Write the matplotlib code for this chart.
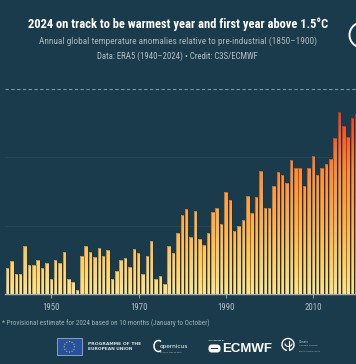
import numpy as np
import matplotlib
matplotlib.use("Agg")
import matplotlib.pyplot as plt
from matplotlib import font_manager as fm
from matplotlib.colors import LinearSegmentedColormap
from matplotlib.path import Path
from matplotlib.patches import PathPatch, Rectangle, Circle, Arc, FancyBboxPatch

# ---------------- data ----------------
years = list(range(1940, 2021))
anomalies = [
    0.19, 0.24, 0.15, 0.15, 0.35, 0.21, 0.21, 0.25, 0.19, 0.23,   # 1940s
    0.11, 0.25, 0.23, 0.31, 0.11, 0.09, 0.03, 0.28, 0.35, 0.31,   # 1950s
    0.27, 0.34, 0.28, 0.32, 0.11, 0.17, 0.25, 0.26, 0.20, 0.33,   # 1960s
    0.30, 0.15, 0.28, 0.39, 0.11, 0.13, 0.07, 0.35, 0.30, 0.45,   # 1970s
    0.58, 0.62, 0.42, 0.61, 0.40, 0.36, 0.45, 0.60, 0.63, 0.51,   # 1980s
    0.75, 0.69, 0.46, 0.50, 0.54, 0.72, 0.59, 0.71, 0.90, 0.63,   # 1990s
    0.63, 0.79, 0.89, 0.87, 0.81, 0.98, 0.92, 0.92, 0.79, 0.92,   # 2000s
    1.01, 0.87, 0.92, 0.95, 0.99, 1.14, 1.33, 1.23, 1.15, 1.29,   # 2010s
    1.32,                                                         # 2020
]
tick_years = [1950, 1970, 1990, 2010]
grid_levels = [0.5, 1.0]
threshold = 1.5

title = "2024 on track to be warmest year and first year above 1.5°C"
subtitle = "Annual global temperature anomalies relative to pre-industrial (1850–1900)"
source = "Data: ERA5 (1940–2024) • Credit: C3S/ECMWF"
footnote = "* Provisional estimate for 2024 based on 10 months (January to October)"

# ---------------- style ----------------
BG = "#1a3b4b"
W, H = 356, 364

names = {f.name for f in fm.fontManager.ttflist}
cond = None
for cand in ["Roboto Condensed", "Liberation Sans Narrow", "Arial Narrow"]:
    if cand in names:
        cond = dict(family=cand)
        break
if cond is None:
    if any(f.name == "DejaVu Sans" and f.stretch in ("condensed", 400) for f in fm.fontManager.ttflist):
        cond = dict(family="DejaVu Sans", stretch="condensed")
    else:
        cond = dict(family="Roboto")

fig = plt.figure(figsize=(W / 100, H / 100), dpi=100)
fig.patch.set_facecolor(BG)

# main axes in pixel geometry
px_per_year = 4.367
x0_year = 1939.4
x1_year = 2025.0
px_per_deg = 136.6
left_px = 5
base_px = 294
ymax = 1.6
ax = fig.add_axes([left_px / W, (H - base_px) / H,
                   (x1_year - x0_year) * px_per_year / W, ymax * px_per_deg / H])
ax.set_facecolor(BG)
ax.set_xlim(x0_year, x1_year)
ax.set_ylim(0, ymax)
for s in ["top", "right", "left"]:
    ax.spines[s].set_visible(False)
ax.spines["bottom"].set_color("#a3b0b7")
ax.spines["bottom"].set_linewidth(1.0)
ax.set_yticks([])
ax.set_xticks(tick_years)
ax.set_xticklabels([str(y) for y in tick_years], color="#b8c3c9", fontsize=6.3, **cond)
ax.tick_params(axis="x", length=3, width=0.8, color="#8d9ca4", pad=3.5)

for g in grid_levels:
    ax.axhline(g, color="#244657", lw=0.8, zorder=0)
ax.axhline(threshold, color="#7d95a1", lw=0.8, dashes=(3.0, 2.2), zorder=1)

# gradient-filled bars
cmap = LinearSegmentedColormap.from_list("warm", [
    (0.0, "#fde48c"), (0.18, "#ffc95e"), (0.35, "#ffac48"),
    (0.56, "#ff8c39"), (0.69, "#f8672d"), (0.84, "#ee3b22"), (1.0, "#e22a1c")])
bw = 0.8
verts_list = []
for yr, v in zip(years, anomalies):
    rect = Path([(yr - bw / 2, 0), (yr + bw / 2, 0), (yr + bw / 2, v), (yr - bw / 2, v), (yr - bw / 2, 0)],
                [Path.MOVETO, Path.LINETO, Path.LINETO, Path.LINETO, Path.CLOSEPOLY])
    verts_list.append(rect)
compound = Path.make_compound_path(*verts_list)
clip_patch = PathPatch(compound, transform=ax.transData, facecolor="none", edgecolor="none")
ax.add_patch(clip_patch)
grad = np.linspace(0, 1, 256).reshape(-1, 1)
im = ax.imshow(grad, extent=[x0_year, x1_year, 0, ymax], origin="lower", aspect="auto",
               cmap=cmap, zorder=2, interpolation="bilinear")
im.set_clip_path(clip_patch)
ax.bar(years, anomalies, width=bw, facecolor="none", edgecolor=(0.12, 0.12, 0.15, 0.35),
       linewidth=0.6, zorder=3)
ax.set_xlim(x0_year, x1_year)
ax.set_ylim(0, ymax)

# ---------------- overlay for text & logos (pixel coords) ----------------
ov = fig.add_axes([0, 0, 1, 1], zorder=5)
ov.set_xlim(0, W)
ov.set_ylim(H, 0)
ov.axis("off")
ov.patch.set_alpha(0)

renderer = fig.canvas.get_renderer()


def fit(x, y, s, width, size=8, ha="center", **kw):
    t = ov.text(x, y, s, ha=ha, va="center", fontsize=size, **kw)
    for _ in range(3):
        bb = t.get_window_extent(renderer)
        if bb.width > 0:
            t.set_fontsize(t.get_fontsize() * width / bb.width)
    return t


fit(178, 24, title, 300, color="white", fontweight="bold", **cond)
fit(177.7, 41.3, subtitle, 278, color="#a9b8c0", **cond)
fit(177.5, 56.7, source, 161, color="#b3c0c7", **cond)
fit(2, 323.3, footnote, 208, ha="left", color="#a3b1b8", **cond)

# top-right partial logo circle
ov.add_patch(Circle((362, 35), 12.5, fill=False, ec="white", lw=1.4))

# EU flag
ov.add_patch(Rectangle((57.3, 338.3), 24.2, 17, fc="#2551a0", ec="#9fb0c0", lw=0.6))
for k in range(12):
    a = 2 * np.pi * k / 12
    ov.add_patch(Circle((69.4 + 5.2 * np.cos(a), 346.8 + 5.2 * np.sin(a)), 0.55, fc="#f5d33a", ec="none"))
fit(88, 343.6, "PROGRAMME OF THE", 52, ha="left", color="#d8dee2", fontweight="bold", family="DejaVu Sans")
fit(88, 348.6, "EUROPEAN UNION", 45, ha="left", color="#d8dee2", fontweight="bold", family="DejaVu Sans")

# Copernicus
ov.add_patch(Arc((158.5, 346), 9, 11, theta1=60, theta2=300, ec="white", lw=1.1))
fit(160, 346.5, "opernicus", 28, ha="left", color="white", family="DejaVu Sans")
fit(160.5, 352.5, "Europe's eyes on Earth", 22, ha="left", color="#b8c4ca", family="DejaVu Sans")

# ECMWF
fit(207.5, 340.5, "IMPLEMENTED BY", 15, ha="left", color="#c8d0d4", fontweight="bold", family="DejaVu Sans")
ov.add_patch(FancyBboxPatch((208.5, 344.5), 12, 8, boxstyle="round,pad=0,rounding_size=3.5",
                            fc="white", ec="none"))
ov.add_patch(Rectangle((211, 347.8), 7, 1.4, fc=BG, ec="none"))
fit(222, 348.5, "ECMWF", 50, ha="left", color="white", fontweight="bold", family="Liberation Sans")

# Climate Change Service
ov.add_patch(Arc((288, 344.5), 12, 12, theta1=100, theta2=440, ec="white", lw=1.0))
ov.add_patch(Arc((288.5, 343.5), 7, 6, theta1=0, theta2=180, ec="white", lw=0.8))
ov.plot([288.5, 288.5], [341, 349], color="white", lw=0.8)
fit(299, 341.8, "Climate", 10, ha="left", color="#c8d0d4", family="DejaVu Sans")
fit(299, 345.3, "Change Service", 19, ha="left", color="#c8d0d4", family="DejaVu Sans")
fit(299, 351.8, "climate.copernicus.eu", 22, ha="left", color="#aab6bc", family="DejaVu Sans")

fig.savefig("out.png", dpi=100, facecolor=BG)
